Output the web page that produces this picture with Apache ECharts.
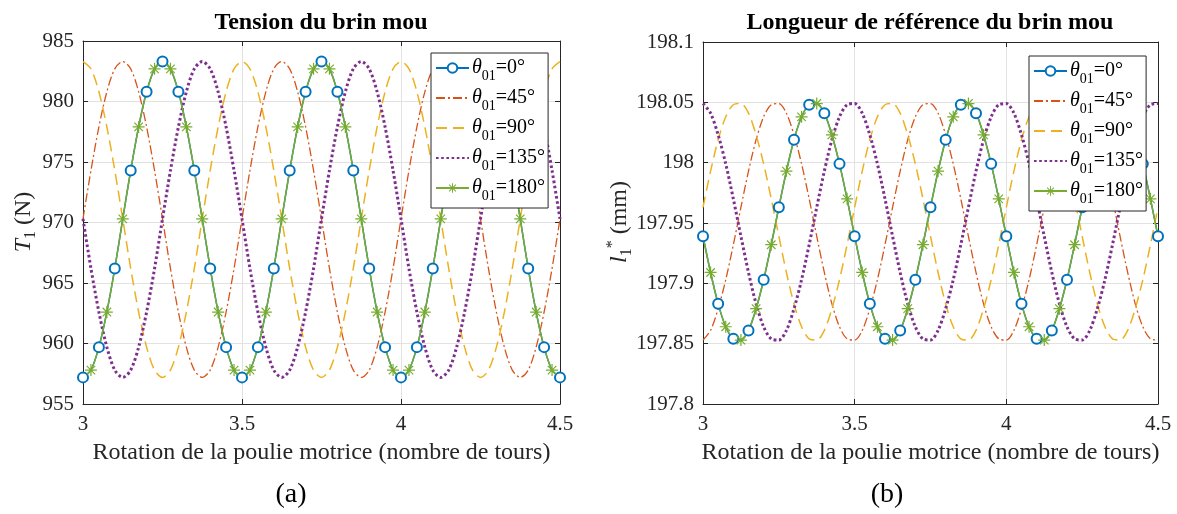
<!DOCTYPE html>
<html>
<head>
<meta charset="utf-8">
<script src="https://cdn.jsdelivr.net/npm/echarts@6/dist/echarts.min.js"></script>
<style>
html,body{margin:0;padding:0;background:#fff;}
#c{width:1177px;height:514px;}
</style>
</head>
<body>
<div id="c"></div>
<script>
// ---- data ----
const rotation = [
  3, 3.025, 3.05, 3.075, 3.1, 3.125, 3.15, 3.175, 3.2, 3.225,
  3.25, 3.275, 3.3, 3.325, 3.35, 3.375, 3.4, 3.425, 3.45, 3.475,
  3.5, 3.525, 3.55, 3.575, 3.6, 3.625, 3.65, 3.675, 3.7, 3.725,
  3.75, 3.775, 3.8, 3.825, 3.85, 3.875, 3.9, 3.925, 3.95, 3.975,
  4, 4.025, 4.05, 4.075, 4.1, 4.125, 4.15, 4.175, 4.2, 4.225,
  4.25, 4.275, 4.3, 4.325, 4.35, 4.375, 4.4, 4.425, 4.45, 4.475,
  4.5
];

const tension0 = [
  957.2, 957.8, 959.7, 962.6, 966.2, 970.3, 974.3, 977.9, 980.8, 982.7,
  983.3, 982.7, 980.8, 977.9, 974.3, 970.3, 966.2, 962.6, 959.7, 957.8,
  957.2, 957.8, 959.7, 962.6, 966.2, 970.3, 974.3, 977.9, 980.8, 982.7,
  983.3, 982.7, 980.8, 977.9, 974.3, 970.3, 966.2, 962.6, 959.7, 957.8,
  957.2, 957.8, 959.7, 962.6, 966.2, 970.3, 974.3, 977.9, 980.8, 982.7,
  983.3, 982.7, 980.8, 977.9, 974.3, 970.3, 966.2, 962.6, 959.7, 957.8,
  957.2
];
const tension45 = [
  970.3, 974.3, 977.9, 980.8, 982.7, 983.3, 982.7, 980.8, 977.9, 974.3,
  970.3, 966.2, 962.6, 959.7, 957.8, 957.2, 957.8, 959.7, 962.6, 966.2,
  970.3, 974.3, 977.9, 980.8, 982.7, 983.3, 982.7, 980.8, 977.9, 974.3,
  970.3, 966.2, 962.6, 959.7, 957.8, 957.2, 957.8, 959.7, 962.6, 966.2,
  970.3, 974.3, 977.9, 980.8, 982.7, 983.3, 982.7, 980.8, 977.9, 974.3,
  970.3, 966.2, 962.6, 959.7, 957.8, 957.2, 957.8, 959.7, 962.6, 966.2,
  970.3
];
const tension90 = [
  983.3, 982.7, 980.8, 977.9, 974.3, 970.3, 966.2, 962.6, 959.7, 957.8,
  957.2, 957.8, 959.7, 962.6, 966.2, 970.3, 974.3, 977.9, 980.8, 982.7,
  983.3, 982.7, 980.8, 977.9, 974.3, 970.3, 966.2, 962.6, 959.7, 957.8,
  957.2, 957.8, 959.7, 962.6, 966.2, 970.3, 974.3, 977.9, 980.8, 982.7,
  983.3, 982.7, 980.8, 977.9, 974.3, 970.3, 966.2, 962.6, 959.7, 957.8,
  957.2, 957.8, 959.7, 962.6, 966.2, 970.3, 974.3, 977.9, 980.8, 982.7,
  983.3
];
const tension135 = [
  970.3, 966.2, 962.6, 959.7, 957.8, 957.2, 957.8, 959.7, 962.6, 966.2,
  970.3, 974.3, 977.9, 980.8, 982.7, 983.3, 982.7, 980.8, 977.9, 974.3,
  970.3, 966.2, 962.6, 959.7, 957.8, 957.2, 957.8, 959.7, 962.6, 966.2,
  970.3, 974.3, 977.9, 980.8, 982.7, 983.3, 982.7, 980.8, 977.9, 974.3,
  970.3, 966.2, 962.6, 959.7, 957.8, 957.2, 957.8, 959.7, 962.6, 966.2,
  970.3, 974.3, 977.9, 980.8, 982.7, 983.3, 982.7, 980.8, 977.9, 974.3,
  970.3
];
const tension180 = [
  957.2, 957.8, 959.7, 962.6, 966.2, 970.3, 974.3, 977.9, 980.8, 982.7,
  983.3, 982.7, 980.8, 977.9, 974.3, 970.3, 966.2, 962.6, 959.7, 957.8,
  957.2, 957.8, 959.7, 962.6, 966.2, 970.3, 974.3, 977.9, 980.8, 982.7,
  983.3, 982.7, 980.8, 977.9, 974.3, 970.3, 966.2, 962.6, 959.7, 957.8,
  957.2, 957.8, 959.7, 962.6, 966.2, 970.3, 974.3, 977.9, 980.8, 982.7,
  983.3, 982.7, 980.8, 977.9, 974.3, 970.3, 966.2, 962.6, 959.7, 957.8,
  957.2
];

const length0 = [
  197.939, 197.909, 197.883, 197.864, 197.854, 197.853, 197.861, 197.879, 197.903, 197.932,
  197.963, 197.993, 198.019, 198.038, 198.048, 198.049, 198.041, 198.023, 197.999, 197.970,
  197.939, 197.909, 197.883, 197.864, 197.854, 197.853, 197.861, 197.879, 197.903, 197.932,
  197.963, 197.993, 198.019, 198.038, 198.048, 198.049, 198.041, 198.023, 197.999, 197.970,
  197.939, 197.909, 197.883, 197.864, 197.854, 197.853, 197.861, 197.879, 197.903, 197.932,
  197.963, 197.993, 198.019, 198.038, 198.048, 198.049, 198.041, 198.023, 197.999, 197.970,
  197.939
];
const length45 = [
  197.853, 197.861, 197.879, 197.903, 197.932, 197.963, 197.993, 198.019, 198.038, 198.048,
  198.049, 198.041, 198.023, 197.999, 197.970, 197.939, 197.909, 197.883, 197.864, 197.854,
  197.853, 197.861, 197.879, 197.903, 197.932, 197.963, 197.993, 198.019, 198.038, 198.048,
  198.049, 198.041, 198.023, 197.999, 197.970, 197.939, 197.909, 197.883, 197.864, 197.854,
  197.853, 197.861, 197.879, 197.903, 197.932, 197.963, 197.993, 198.019, 198.038, 198.048,
  198.049, 198.041, 198.023, 197.999, 197.970, 197.939, 197.909, 197.883, 197.864, 197.854,
  197.853
];
const length90 = [
  197.963, 197.993, 198.019, 198.038, 198.048, 198.049, 198.041, 198.023, 197.999, 197.970,
  197.939, 197.909, 197.883, 197.864, 197.854, 197.853, 197.861, 197.879, 197.903, 197.932,
  197.963, 197.993, 198.019, 198.038, 198.048, 198.049, 198.041, 198.023, 197.999, 197.970,
  197.939, 197.909, 197.883, 197.864, 197.854, 197.853, 197.861, 197.879, 197.903, 197.932,
  197.963, 197.993, 198.019, 198.038, 198.048, 198.049, 198.041, 198.023, 197.999, 197.970,
  197.939, 197.909, 197.883, 197.864, 197.854, 197.853, 197.861, 197.879, 197.903, 197.932,
  197.963
];
const length135 = [
  198.049, 198.041, 198.023, 197.999, 197.970, 197.939, 197.909, 197.883, 197.864, 197.854,
  197.853, 197.861, 197.879, 197.903, 197.932, 197.963, 197.993, 198.019, 198.038, 198.048,
  198.049, 198.041, 198.023, 197.999, 197.970, 197.939, 197.909, 197.883, 197.864, 197.854,
  197.853, 197.861, 197.879, 197.903, 197.932, 197.963, 197.993, 198.019, 198.038, 198.048,
  198.049, 198.041, 198.023, 197.999, 197.970, 197.939, 197.909, 197.883, 197.864, 197.854,
  197.853, 197.861, 197.879, 197.903, 197.932, 197.963, 197.993, 198.019, 198.038, 198.048,
  198.049
];
const length180 = [
  197.939, 197.909, 197.883, 197.864, 197.854, 197.853, 197.861, 197.879, 197.903, 197.932,
  197.963, 197.993, 198.019, 198.038, 198.048, 198.049, 198.041, 198.023, 197.999, 197.970,
  197.939, 197.909, 197.883, 197.864, 197.854, 197.853, 197.861, 197.879, 197.903, 197.932,
  197.963, 197.993, 198.019, 198.038, 198.048, 198.049, 198.041, 198.023, 197.999, 197.970,
  197.939, 197.909, 197.883, 197.864, 197.854, 197.853, 197.861, 197.879, 197.903, 197.932,
  197.963, 197.993, 198.019, 198.038, 198.048, 198.049, 198.041, 198.023, 197.999, 197.970,
  197.939
];

const angles = ['0', '45', '90', '135', '180'];
const xTicks = { min: 3, max: 4.5, interval: 0.5 };
const yTicksLeft = { min: 955, max: 985, interval: 5 };
const yTicksRight = { min: 197.8, max: 198.1, interval: 0.05 };

// ---- styling ----
const FONT = '"Liberation Serif", "Times New Roman", serif';
const AX = '#262626';
const GRIDC = '#e2e2e2';
const COLORS = ['#0072BD', '#D95319', '#EDB120', '#7E2F8E', '#77AC30'];
const ASTER = 'path://M0 9L20 9L20 11L0 11Z M9 0L11 0L11 20L9 20Z M2.2 3.6L3.6 2.2L17.8 16.4L16.4 17.8Z M16.4 2.2L17.8 3.6L3.6 17.8L2.2 16.4Z';

function xAxisDef(gi, pos, main) {
  return {
    type: 'value', gridIndex: gi, position: pos,
    min: xTicks.min, max: xTicks.max, interval: xTicks.interval,
    axisLine: { show: true, onZero: false, lineStyle: { color: AX, width: 1 } },
    axisTick: { show: true, inside: true, length: 5, lineStyle: { color: AX, width: 1 } },
    axisLabel: { show: main, margin: 10, fontFamily: FONT, fontSize: 21, color: AX },
    splitLine: { show: main, lineStyle: { color: GRIDC, width: 1 } },
    name: main ? 'Rotation de la poulie motrice (nombre de tours)' : '',
    nameLocation: 'middle', nameGap: 37,
    nameTextStyle: { fontFamily: FONT, fontSize: 24, color: AX }
  };
}
function yAxisDef(gi, pos, main, t, fmt) {
  return {
    type: 'value', gridIndex: gi, position: pos,
    min: t.min, max: t.max, interval: t.interval,
    axisLine: { show: true, onZero: false, lineStyle: { color: AX, width: 1 } },
    axisTick: { show: true, inside: true, length: 5, lineStyle: { color: AX, width: 1 } },
    axisLabel: { show: main, margin: 9, fontFamily: FONT, fontSize: 21, color: AX, formatter: fmt },
    splitLine: { show: main, lineStyle: { color: GRIDC, width: 1 } }
  };
}

const styles = [
  { lineStyle: { color: COLORS[0], width: 1.5, type: 'solid' }, symbol: 'emptyCircle', symbolSize: 10, parity: 0 },
  { lineStyle: { color: COLORS[1], width: 1.3, type: [9, 3, 2, 3] }, symbol: 'none' },
  { lineStyle: { color: COLORS[2], width: 1.5, type: [11, 6] }, symbol: 'none' },
  { lineStyle: { color: COLORS[3], width: 3, type: [2.6, 2.6] }, symbol: 'none' },
  { lineStyle: { color: COLORS[4], width: 1.5, type: 'solid' }, symbol: ASTER, symbolSize: 12, parity: 1 }
];

function makeSeries(prefix, gi, xi, yi, arrays) {
  return arrays.map((ys, s) => {
    const st = styles[s];
    const hasSym = st.symbol !== 'none';
    const data = rotation.map((x, i) => {
      if (hasSym && i % 2 !== st.parity) return { value: [x, ys[i]], symbol: 'none' };
      return [x, ys[i]];
    });
    return {
      type: 'line', name: prefix + angles[s],
      xAxisIndex: xi, yAxisIndex: yi,
      data: data, smooth: 0.3,
      symbol: st.symbol, symbolSize: st.symbolSize || 0,
      showSymbol: hasSym, showAllSymbol: true,
      lineStyle: st.lineStyle,
      itemStyle: { color: st.lineStyle.color, borderColor: st.lineStyle.color, borderWidth: s === 0 ? 1.3 : 0 },
      emphasis: { disabled: true },
      animation: false, z: 2, zlevel: 0
    };
  });
}

function legendDef(prefix, left, top) {
  return {
    orient: 'vertical', left: left, top: top, z: 50, zlevel: 0,
    itemWidth: 33, itemHeight: 12, itemGap: 5,
    padding: [5, 3, 5, 4],
    borderColor: AX, borderWidth: 1, backgroundColor: '#fff',
    data: angles.map((a, s) => styles[s].symbol === 'none'
      ? { name: prefix + a, itemStyle: { opacity: 0 } }
      : { name: prefix + a }),
    formatter: n => '{th|θ}{sub|01}{t|=' + n.slice(1) + '°}',
    textStyle: {
      color: '#000', padding: [0, 0, 0, -2],
      rich: {
        th: { fontFamily: FONT, fontStyle: 'italic', fontSize: 20, lineHeight: 30, color: '#000' },
        sub: { fontFamily: FONT, fontSize: 14, lineHeight: 15, verticalAlign: 'bottom', color: '#000' },
        t: { fontFamily: FONT, fontSize: 20, lineHeight: 30, color: '#000' }
      }
    },
    selectedMode: false
  };
}

const richY = {
  it: { fontFamily: FONT, fontStyle: 'italic', fontSize: 24, lineHeight: 30, fill: AX },
  sub: { fontFamily: FONT, fontSize: 16, lineHeight: 16, verticalAlign: 'bottom', fill: AX },
  sup: { fontFamily: FONT, fontSize: 16, lineHeight: 16, verticalAlign: 'top', fill: AX },
  t: { fontFamily: FONT, fontSize: 24, lineHeight: 30, fill: AX }
};

const option = {
  backgroundColor: '#fff',
  animation: false,
  grid: [
    { left: 83, top: 41, width: 477, height: 363 },
    { left: 703, top: 42, width: 455, height: 362 }
  ],
  xAxis: [xAxisDef(0, 'bottom', true), xAxisDef(0, 'top', false), xAxisDef(1, 'bottom', true), xAxisDef(1, 'top', false)],
  yAxis: [
    yAxisDef(0, 'left', true, yTicksLeft, v => String(v)),
    yAxisDef(0, 'right', false, yTicksLeft, v => String(v)),
    yAxisDef(1, 'left', true, yTicksRight, v => String(+v.toFixed(2))),
    yAxisDef(1, 'right', false, yTicksRight, v => String(+v.toFixed(2)))
  ],
  legend: [legendDef('L', 431, 53), legendDef('R', 1029, 56)],
  series: [].concat(
    makeSeries('L', 0, 0, 0, [tension0, tension45, tension90, tension135, tension180]),
    makeSeries('R', 1, 2, 2, [length0, length45, length90, length135, length180])
  ),
  graphic: [
    { type: 'text', x: 321, y: 23, style: { text: 'Tension du brin mou', font: 'bold 24px ' + FONT, fill: '#000', align: 'center', verticalAlign: 'middle' } },
    { type: 'text', x: 930, y: 23, style: { text: 'Longueur de référence du brin mou', font: 'bold 24px ' + FONT, fill: '#000', align: 'center', verticalAlign: 'middle' } },
    { type: 'text', x: 291, y: 495, style: { text: '(a)', font: '28px ' + FONT, fill: '#000', align: 'center', verticalAlign: 'middle' } },
    { type: 'text', x: 887, y: 495, style: { text: '(b)', font: '28px ' + FONT, fill: '#000', align: 'center', verticalAlign: 'middle' } },
    { type: 'text', x: 24, y: 222, rotation: Math.PI / 2,
      style: { text: '{it|T}{sub|1}{t| (N)}', rich: richY, align: 'center', verticalAlign: 'middle' } },
    { type: 'text', x: 620, y: 222, rotation: Math.PI / 2,
      style: { text: '{it|l}{sub|1}{sup|*}{t| (mm)}', rich: richY, align: 'center', verticalAlign: 'middle' } }
  ]
};

const chart = echarts.init(document.getElementById('c'), null, { renderer: 'canvas' });
chart.setOption(option);
</script>
</body>
</html>
